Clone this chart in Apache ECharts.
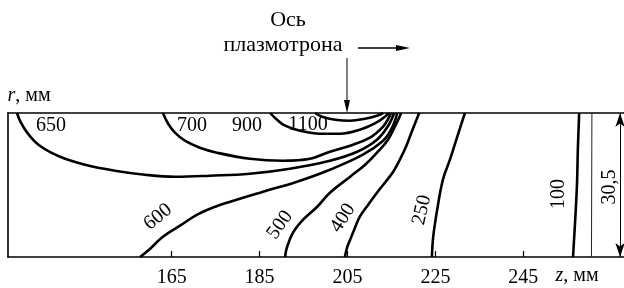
<!DOCTYPE html>
<html>
<head>
<meta charset="utf-8">
<script src="https://cdn.jsdelivr.net/npm/echarts@6/dist/echarts.min.js"></script>
<style>
  html, body { margin: 0; padding: 0; background: #fff; }
  #chart { width: 624px; height: 288px; }
</style>
</head>
<body>
<div id="chart"></div>
<script>
// изотермы: точки [z, r], мм (r считается от оси плазмотрона вниз)
const iso650  = [[129.8, 0], [130.7, 2.05], [132.3, 4.38], [135.0, 6.93], [139.6, 9.26], [145.3, 10.95],
                 [152.1, 12.22], [158.9, 13.07], [165.8, 13.49], [173.7, 13.28], [182.8, 12.86], [191.9, 11.80],
                 [201.0, 10.10], [207.2, 8.20], [211.7, 5.66], [214.4, 2.48], [215.6, 0]]
const iso700  = [[163.0, 0], [164.2, 2.27], [165.75, 4.17], [168.0, 5.87], [171.4, 7.35], [175.3, 8.41],
                 [182.8, 9.68], [190.3, 10.10], [196.5, 9.68], [201.0, 8.20], [205.6, 6.93], [210.1, 5.23],
                 [213.1, 2.90], [214.4, 1.00], [214.9, 0]]
const iso900  = [[187.4, 0], [188.7, 1.21], [190.8, 2.69], [194.2, 3.75], [198.7, 4.38], [203.3, 4.38],
                 [207.8, 3.54], [211.5, 2.05], [213.5, 0.78], [214.4, 0]]
const iso1100 = [[197.6, 0], [199.2, 0.78], [202.2, 1.42], [205.6, 1.63], [209.0, 1.21], [211.7, 0.57], [213.1, 0]]
const iso600  = [[157.8, 30.5], [160.1, 28.74], [163.0, 26.20], [166.9, 23.87], [170.8, 21.54], [174.9, 19.85],
                 [178.3, 18.79], [185.8, 16.67], [193.5, 14.55], [201.0, 12.01], [208.5, 8.83], [213.1, 5.87],
                 [214.9, 3.54], [215.8, 1.63], [216.3, 0]]
const iso500  = [[190.8, 30.5], [191.2, 28.53], [192.6, 25.35], [194.9, 22.60], [198.1, 19.85], [201.0, 16.88],
                 [205.6, 13.49], [209.0, 10.95], [211.9, 8.20], [214.2, 5.66], [216.0, 2.48], [217.2, 0]]
const iso400  = [[204.4, 30.5], [204.9, 28.53], [205.6, 26.84], [206.7, 24.29], [207.8, 21.96], [209.7, 19.42],
                 [211.7, 16.88], [213.5, 14.76], [215.4, 12.43], [216.9, 9.89], [218.3, 7.14], [219.7, 3.75], [221.3, 0]]
const iso250  = [[224.2, 30.5], [224.5, 26.20], [225.4, 20.48], [226.7, 14.13], [228.3, 9.89], [229.9, 5.23], [231.7, 0]]
const iso100  = [[256.3, 30.5], [256.8, 22.60], [257.2, 15.19], [257.4, 7.77], [257.7, 0]]
const wallLine = [[260.6, 0], [260.5, 30.5]]

const zTicks = [165, 185, 205, 225, 245]
const rMax   = 30.5
const dimZ   = 267.0

const FONT = '"Liberation Serif", "DejaVu Serif", serif'

function contour(name, data) {
  return {
    name      : name,
    type      : 'line',
    data      : data,
    smooth    : 0.4,
    symbol    : 'none',
    silent    : true,
    lineStyle : { color: '#000', width: 2.6 },
    z         : 3
  }
}

// подпись: центр в пикселях, поворот в радианах
function txt(text, x, y, rot, extra) {
  return {
    type     : 'text',
    x        : x,
    y        : y,
    rotation : rot || 0,
    silent   : true,
    style    : Object.assign({
      text              : text,
      font              : '20px ' + FONT,
      fill              : '#000',
      align             : 'center',
      verticalAlign     : 'middle',
      textAlign         : 'center',
      textVerticalAlign : 'middle'
    }, extra || {})
  }
}

function arrowHead(tip, dir) {
  // dir: 'down' | 'right'
  const [x, y] = tip
  const pts = dir === 'down'
    ? [[x, y], [x - 3, y - 13], [x + 3, y - 13]]
    : [[x, y], [x - 14, y - 3], [x - 14, y + 3]]
  return { type: 'polygon', silent: true, shape: { points: pts }, style: { fill: '#000' } }
}

const big = { font: '22px ' + FONT }
const units = { rich: { i: { fontStyle: 'italic', font: 'italic 20px ' + FONT } } }

const chart = echarts.init(document.getElementById('chart'))

chart.setOption({
  animation       : false,
  backgroundColor : '#fff',
  textStyle       : { fontFamily: FONT },
  grid: { left: 8, right: 0, top: 113, height: 144 },
  xAxis: [{
    type      : 'value',
    min       : 127.76,
    max       : 267.9,
    position  : 'bottom',
    axisLine  : { show: true, onZero: false, lineStyle: { color: '#000', width: 1.6 } },
    axisTick  : { show: true, inside: true, length: 6, customValues: zTicks, lineStyle: { color: '#000', width: 1.2 } },
    axisLabel : { customValues: zTicks, color: '#000', fontSize: 20, fontFamily: FONT, margin: 11 },
    splitLine : { show: false }
  }, {
    type      : 'value',
    min       : 127.76,
    max       : 267.9,
    position  : 'top',
    axisLine  : { show: true, onZero: false, lineStyle: { color: '#000', width: 1.6 } },
    axisTick  : { show: false },
    axisLabel : { show: false },
    splitLine : { show: false }
  }],
  yAxis: {
    type      : 'value',
    min       : 0,
    max       : rMax,
    inverse   : true,
    axisLine  : { show: true, onZero: false, lineStyle: { color: '#000', width: 1.6 } },
    axisTick  : { show: false },
    axisLabel : { show: false },
    splitLine : { show: false }
  },
  series: [
    contour('650', iso650),
    contour('700', iso700),
    contour('900', iso900),
    contour('1100', iso1100),
    contour('600', iso600),
    contour('500', iso500),
    contour('400', iso400),
    contour('250', iso250),
    contour('100', iso100),
    {
      name      : 'wall',
      type      : 'line',
      data      : wallLine,
      symbol    : 'none',
      silent    : true,
      lineStyle : { color: '#222', width: 1 },
      markLine  : {
        silent     : true,
        symbol     : ['arrow', 'arrow'],
        symbolSize : [7, 14],
        label      : { show: false },
        lineStyle  : { color: '#000', width: 1, type: 'solid' },
        data       : [[{ coord: [dimZ, 0] }, { coord: [dimZ, rMax] }]]
      }
    }
  ],
  graphic: [
    txt('650', 51, 126),
    txt('700', 192, 126),
    txt('900', 247, 126),
    txt('1100', 308, 125),
    txt('600', 158, 217, 0.69),
    txt('500', 280, 225, 0.95),
    txt('400', 343, 218, 1.0),
    txt('250', 422, 210, 1.35),
    txt('100', 559, 194, Math.PI / 2),
    txt('30,5', 610, 187, Math.PI / 2),
    txt('Ось', 288, 20, 0, big),
    txt('плазмотрона', 283, 45, 0, big),
    txt('{i|z}, мм', 577, 276, 0, units),
    txt('{i|r}, мм', 29, 96, 0, units),
    { type: 'line', silent: true, shape: { x1: 347, y1: 58, x2: 347, y2: 102 }, style: { stroke: '#000', lineWidth: 1 } },
    arrowHead([347, 113], 'down'),
    { type: 'line', silent: true, shape: { x1: 358, y1: 48, x2: 398, y2: 48 }, style: { stroke: '#000', lineWidth: 1.6 } },
    arrowHead([410, 48], 'right')
  ]
})
</script>
</body>
</html>
